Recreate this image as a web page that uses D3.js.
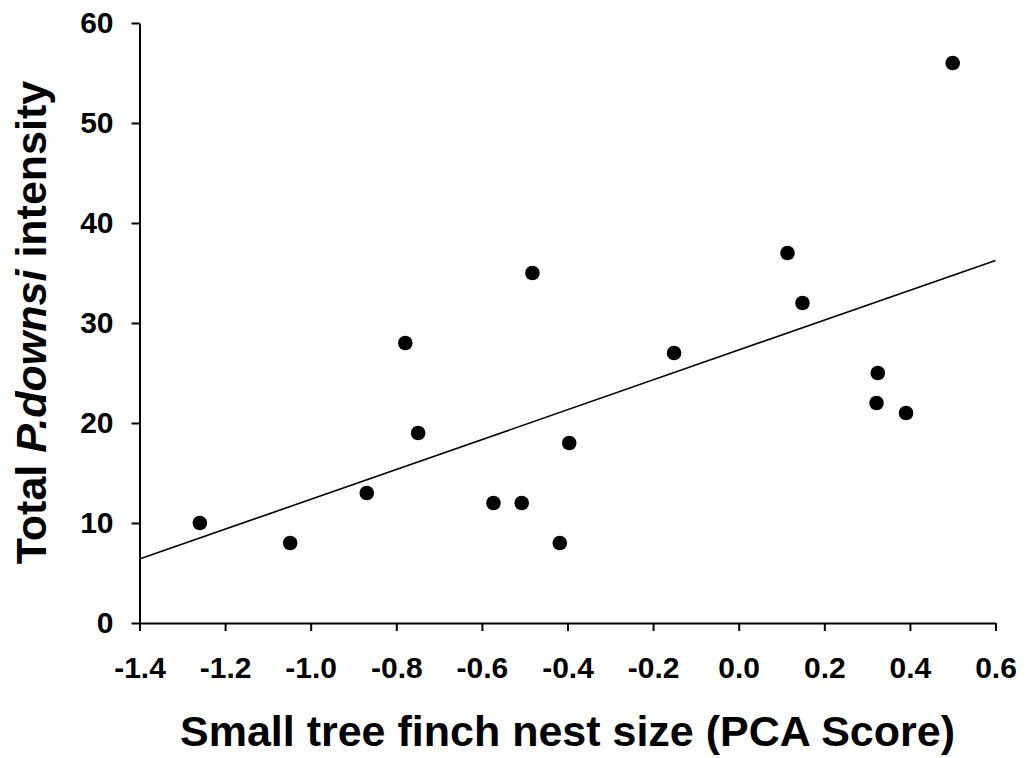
<!DOCTYPE html>
<html>
<head>
<meta charset="utf-8">
<script src="https://cdn.jsdelivr.net/npm/d3@7"></script>
<style>
  html, body { margin: 0; padding: 0; background: #fff; }
  svg { display: block; }
  text { font-family: "Liberation Sans", Arial, Helvetica, sans-serif; font-weight: bold; fill: #000; }
</style>
</head>
<body>
<svg id="chart" width="1027" height="758"></svg>
<script>
// Nest size (PCA score) and total P. downsi intensity per nest
const nestSize = [-1.259, -1.048, -0.869, -0.779, -0.749, -0.573, -0.507, -0.482, -0.418, -0.396, -0.151, 0.114, 0.149, 0.322, 0.325, 0.391, 0.500];
const intensity = [10, 8, 13, 28, 19, 12, 12, 35, 8, 18, 27, 37, 32, 22, 25, 21, 56];

const xTicks = [-1.4, -1.2, -1.0, -0.8, -0.6, -0.4, -0.2, 0.0, 0.2, 0.4, 0.6];
const xTickLabels = ["-1.4", "-1.2", "-1.0", "-0.8", "-0.6", "-0.4", "-0.2", "0.0", "0.2", "0.4", "0.6"];
const yTicks = [0, 10, 20, 30, 40, 50, 60];

const svg = d3.select("#chart");

const x = d3.scaleLinear().domain([-1.4, 0.6]).range([139.5, 995.5]);
const y = d3.scaleLinear().domain([0, 60]).range([623, 23]);

// Axes
const xAxis = d3.axisBottom(x)
  .tickValues(xTicks)
  .tickFormat((d, i) => xTickLabels[i])
  .tickSize(8)
  .tickSizeOuter(0)
  .tickPadding(26);

const yAxis = d3.axisLeft(y)
  .tickValues(yTicks)
  .tickFormat(d3.format("d"))
  .tickSize(8)
  .tickSizeOuter(0)
  .tickPadding(18);

const gx = svg.append("g").attr("transform", `translate(0,${y(0)})`).call(xAxis);
const gy = svg.append("g").attr("transform", `translate(${x(-1.4)},0)`).call(yAxis);

[gx, gy].forEach(g => {
  g.select(".domain").attr("stroke", "#000").attr("stroke-width", 2);
  g.selectAll(".tick line").attr("stroke", "#000").attr("stroke-width", 2);
  g.selectAll(".tick text")
    .attr("font-size", 30)
    .attr("font-family", '"Liberation Sans", Arial, sans-serif')
    .attr("font-weight", "bold")
    .attr("fill", "#000");
});

// Least-squares regression line
const n = nestSize.length;
const mx = d3.mean(nestSize), my = d3.mean(intensity);
let sxy = 0, sxx = 0;
for (let i = 0; i < n; i++) {
  sxy += (nestSize[i] - mx) * (intensity[i] - my);
  sxx += (nestSize[i] - mx) ** 2;
}
const slope = sxy / sxx;
const intercept = my - slope * mx;
const lineEnds = x.domain();

svg.append("line")
  .attr("x1", x(lineEnds[0]))
  .attr("y1", y(intercept + slope * lineEnds[0]))
  .attr("x2", x(lineEnds[1]))
  .attr("y2", y(intercept + slope * lineEnds[1]))
  .attr("stroke", "#000")
  .attr("stroke-width", 1.6);

// Data points
svg.append("g")
  .selectAll("circle")
  .data(nestSize.map((v, i) => [v, intensity[i]]))
  .join("circle")
  .attr("cx", d => x(d[0]))
  .attr("cy", d => y(d[1]))
  .attr("r", 7.3)
  .attr("fill", "#000");

// Axis titles
svg.append("text")
  .attr("x", (x.range()[0] + x.range()[1]) / 2)
  .attr("y", 746)
  .attr("text-anchor", "middle")
  .attr("font-size", 43)
  .text("Small tree finch nest size (PCA Score)");

const yt = svg.append("text")
  .attr("transform", `translate(46,322.5) rotate(-90)`)
  .attr("text-anchor", "middle")
  .attr("font-size", 43);
yt.append("tspan").text("Total ");
yt.append("tspan").attr("font-style", "italic").text("P.downsi");
yt.append("tspan").text(" intensity");
</script>
</body>
</html>
